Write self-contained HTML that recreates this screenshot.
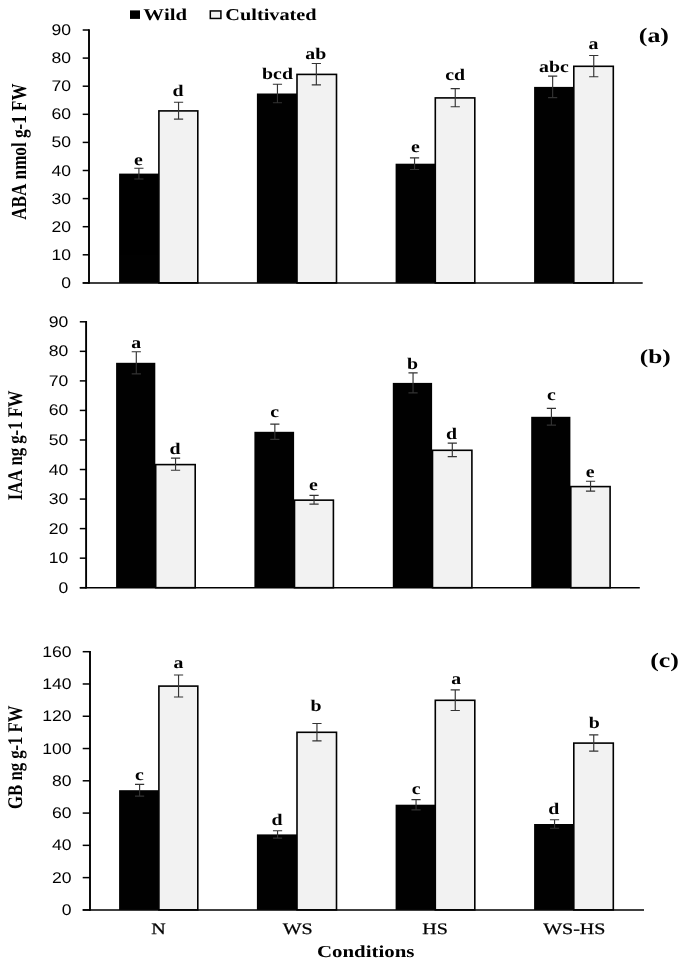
<!DOCTYPE html>
<html><head><meta charset="utf-8"><title>Figure</title>
<style>html,body{margin:0;padding:0;background:#fff}svg{display:block;will-change:transform;opacity:.999}text{fill:#000;font-kerning:none;text-rendering:geometricPrecision}</style>
</head><body>
<svg width="685" height="968" viewBox="0 0 685 968">
<rect width="685" height="968" fill="#fff"/>
<rect x="119.10" y="173.60" width="39.80" height="109.30" fill="#000"/>
<rect x="158.90" y="110.90" width="38.90" height="172.00" fill="#f2f2f2" stroke="#000" stroke-width="1.6"/>
<rect x="256.90" y="93.50" width="40.10" height="189.40" fill="#000"/>
<rect x="297.00" y="74.40" width="39.50" height="208.50" fill="#f2f2f2" stroke="#000" stroke-width="1.6"/>
<rect x="395.60" y="163.70" width="39.70" height="119.20" fill="#000"/>
<rect x="435.30" y="97.90" width="39.50" height="185.00" fill="#f2f2f2" stroke="#000" stroke-width="1.6"/>
<rect x="534.10" y="86.90" width="39.70" height="196.00" fill="#000"/>
<rect x="573.80" y="66.30" width="39.50" height="216.60" fill="#f2f2f2" stroke="#000" stroke-width="1.6"/>
<path d="M138.90 168.24V178.96M134.30 168.24H143.50M134.30 178.96H143.50" stroke="#333" stroke-width="1.15" fill="none"/>
<path d="M178.55 102.26V119.14M173.95 102.26H183.15M173.95 119.14H183.15" stroke="#333" stroke-width="1.15" fill="none"/>
<path d="M277.45 84.22V102.78M272.85 84.22H282.05M272.85 102.78H282.05" stroke="#333" stroke-width="1.15" fill="none"/>
<path d="M316.35 63.46V84.94M311.75 63.46H320.95M311.75 84.94H320.95" stroke="#333" stroke-width="1.15" fill="none"/>
<path d="M414.55 157.86V169.54M409.95 157.86H419.15M409.95 169.54H419.15" stroke="#333" stroke-width="1.15" fill="none"/>
<path d="M455.25 88.63V106.77M450.65 88.63H459.85M450.65 106.77H459.85" stroke="#333" stroke-width="1.15" fill="none"/>
<path d="M552.65 76.14V97.66M548.05 76.14H557.25M548.05 97.66H557.25" stroke="#333" stroke-width="1.15" fill="none"/>
<path d="M593.75 55.48V76.72M589.15 55.48H598.35M589.15 76.72H598.35" stroke="#333" stroke-width="1.15" fill="none"/>
<line x1="89.0" y1="29.25" x2="89.0" y2="283.65" stroke="#000" stroke-width="1.9"/>
<line x1="82.7" y1="282.90" x2="642.7" y2="282.90" stroke="#000" stroke-width="1.5"/>
<line x1="82.7" y1="282.90" x2="89.0" y2="282.90" stroke="#000" stroke-width="1.5"/>
<text transform="translate(71.00,287.90) scale(1.143,1)" font-family="Liberation Sans, sans-serif" font-size="15.4" font-weight="normal" text-anchor="end" >0</text>
<line x1="82.7" y1="254.80" x2="89.0" y2="254.80" stroke="#000" stroke-width="1.5"/>
<text transform="translate(71.00,259.80) scale(1.143,1)" font-family="Liberation Sans, sans-serif" font-size="15.4" font-weight="normal" text-anchor="end" >10</text>
<line x1="82.7" y1="226.70" x2="89.0" y2="226.70" stroke="#000" stroke-width="1.5"/>
<text transform="translate(71.00,231.70) scale(1.143,1)" font-family="Liberation Sans, sans-serif" font-size="15.4" font-weight="normal" text-anchor="end" >20</text>
<line x1="82.7" y1="198.60" x2="89.0" y2="198.60" stroke="#000" stroke-width="1.5"/>
<text transform="translate(71.00,203.60) scale(1.143,1)" font-family="Liberation Sans, sans-serif" font-size="15.4" font-weight="normal" text-anchor="end" >30</text>
<line x1="82.7" y1="170.50" x2="89.0" y2="170.50" stroke="#000" stroke-width="1.5"/>
<text transform="translate(71.00,175.50) scale(1.143,1)" font-family="Liberation Sans, sans-serif" font-size="15.4" font-weight="normal" text-anchor="end" >40</text>
<line x1="82.7" y1="142.40" x2="89.0" y2="142.40" stroke="#000" stroke-width="1.5"/>
<text transform="translate(71.00,147.40) scale(1.143,1)" font-family="Liberation Sans, sans-serif" font-size="15.4" font-weight="normal" text-anchor="end" >50</text>
<line x1="82.7" y1="114.30" x2="89.0" y2="114.30" stroke="#000" stroke-width="1.5"/>
<text transform="translate(71.00,119.30) scale(1.143,1)" font-family="Liberation Sans, sans-serif" font-size="15.4" font-weight="normal" text-anchor="end" >60</text>
<line x1="82.7" y1="86.20" x2="89.0" y2="86.20" stroke="#000" stroke-width="1.5"/>
<text transform="translate(71.00,91.20) scale(1.143,1)" font-family="Liberation Sans, sans-serif" font-size="15.4" font-weight="normal" text-anchor="end" >70</text>
<line x1="82.7" y1="58.10" x2="89.0" y2="58.10" stroke="#000" stroke-width="1.5"/>
<text transform="translate(71.00,63.10) scale(1.143,1)" font-family="Liberation Sans, sans-serif" font-size="15.4" font-weight="normal" text-anchor="end" >80</text>
<line x1="82.7" y1="30.00" x2="89.0" y2="30.00" stroke="#000" stroke-width="1.5"/>
<text transform="translate(71.00,35.00) scale(1.143,1)" font-family="Liberation Sans, sans-serif" font-size="15.4" font-weight="normal" text-anchor="end" >90</text>
<text transform="translate(138.50,165.20) scale(1.21,1)" font-family="Liberation Serif, serif" font-size="16.4" font-weight="bold" text-anchor="middle" >e</text>
<text transform="translate(177.90,95.60) scale(1.21,1)" font-family="Liberation Serif, serif" font-size="16.4" font-weight="bold" text-anchor="middle" >d</text>
<text transform="translate(277.50,78.80) scale(1.21,1)" font-family="Liberation Serif, serif" font-size="16.4" font-weight="bold" text-anchor="middle" >bcd</text>
<text transform="translate(315.80,58.60) scale(1.21,1)" font-family="Liberation Serif, serif" font-size="16.4" font-weight="bold" text-anchor="middle" >ab</text>
<text transform="translate(415.40,152.30) scale(1.21,1)" font-family="Liberation Serif, serif" font-size="16.4" font-weight="bold" text-anchor="middle" >e</text>
<text transform="translate(455.10,79.90) scale(1.21,1)" font-family="Liberation Serif, serif" font-size="16.4" font-weight="bold" text-anchor="middle" >cd</text>
<text transform="translate(553.90,72.00) scale(1.21,1)" font-family="Liberation Serif, serif" font-size="16.4" font-weight="bold" text-anchor="middle" >abc</text>
<text transform="translate(593.50,48.50) scale(1.21,1)" font-family="Liberation Serif, serif" font-size="16.4" font-weight="bold" text-anchor="middle" >a</text>
<text transform="translate(26.00,151.60) scale(1.25,1) rotate(-90)" font-family="Liberation Serif, serif" font-size="17.1" font-weight="bold" text-anchor="middle">ABA nmol g-1 FW</text>
<text transform="translate(653.90,41.70) scale(1.26,1)" font-family="Liberation Serif, serif" font-size="20.5" font-weight="bold" text-anchor="middle" >(a)</text>
<rect x="116.10" y="362.80" width="39.20" height="224.90" fill="#000"/>
<rect x="155.70" y="464.60" width="39.50" height="123.10" fill="#f2f2f2" stroke="#000" stroke-width="1.6"/>
<rect x="254.40" y="431.80" width="39.70" height="155.90" fill="#000"/>
<rect x="294.50" y="500.15" width="38.90" height="87.55" fill="#f2f2f2" stroke="#000" stroke-width="1.6"/>
<rect x="392.80" y="382.90" width="39.30" height="204.80" fill="#000"/>
<rect x="432.50" y="450.30" width="39.40" height="137.40" fill="#f2f2f2" stroke="#000" stroke-width="1.6"/>
<rect x="531.20" y="416.80" width="39.20" height="170.90" fill="#000"/>
<rect x="570.80" y="486.60" width="39.30" height="101.10" fill="#f2f2f2" stroke="#000" stroke-width="1.6"/>
<path d="M136.30 351.78V373.82M131.70 351.78H140.90M131.70 373.82H140.90" stroke="#333" stroke-width="1.15" fill="none"/>
<path d="M175.55 458.15V470.25M170.95 458.15H180.15M170.95 470.25H180.15" stroke="#333" stroke-width="1.15" fill="none"/>
<path d="M274.85 424.16V439.44M270.25 424.16H279.45M270.25 439.44H279.45" stroke="#333" stroke-width="1.15" fill="none"/>
<path d="M314.05 495.44V504.06M309.45 495.44H318.65M309.45 504.06H318.65" stroke="#333" stroke-width="1.15" fill="none"/>
<path d="M413.05 372.86V392.94M408.45 372.86H417.65M408.45 392.94H417.65" stroke="#333" stroke-width="1.15" fill="none"/>
<path d="M452.30 443.15V456.65M447.70 443.15H456.90M447.70 456.65H456.90" stroke="#333" stroke-width="1.15" fill="none"/>
<path d="M551.40 408.43V425.17M546.80 408.43H556.00M546.80 425.17H556.00" stroke="#333" stroke-width="1.15" fill="none"/>
<path d="M590.55 481.23V491.17M585.95 481.23H595.15M585.95 491.17H595.15" stroke="#333" stroke-width="1.15" fill="none"/>
<line x1="86.1" y1="321.05" x2="86.1" y2="588.45" stroke="#000" stroke-width="1.9"/>
<line x1="79.8" y1="587.70" x2="639.8" y2="587.70" stroke="#000" stroke-width="1.5"/>
<line x1="79.8" y1="587.70" x2="86.1" y2="587.70" stroke="#000" stroke-width="1.5"/>
<text transform="translate(68.20,592.70) scale(1.143,1)" font-family="Liberation Sans, sans-serif" font-size="15.4" font-weight="normal" text-anchor="end" >0</text>
<line x1="79.8" y1="558.16" x2="86.1" y2="558.16" stroke="#000" stroke-width="1.5"/>
<text transform="translate(68.20,563.16) scale(1.143,1)" font-family="Liberation Sans, sans-serif" font-size="15.4" font-weight="normal" text-anchor="end" >10</text>
<line x1="79.8" y1="528.61" x2="86.1" y2="528.61" stroke="#000" stroke-width="1.5"/>
<text transform="translate(68.20,533.61) scale(1.143,1)" font-family="Liberation Sans, sans-serif" font-size="15.4" font-weight="normal" text-anchor="end" >20</text>
<line x1="79.8" y1="499.07" x2="86.1" y2="499.07" stroke="#000" stroke-width="1.5"/>
<text transform="translate(68.20,504.07) scale(1.143,1)" font-family="Liberation Sans, sans-serif" font-size="15.4" font-weight="normal" text-anchor="end" >30</text>
<line x1="79.8" y1="469.52" x2="86.1" y2="469.52" stroke="#000" stroke-width="1.5"/>
<text transform="translate(68.20,474.52) scale(1.143,1)" font-family="Liberation Sans, sans-serif" font-size="15.4" font-weight="normal" text-anchor="end" >40</text>
<line x1="79.8" y1="439.98" x2="86.1" y2="439.98" stroke="#000" stroke-width="1.5"/>
<text transform="translate(68.20,444.98) scale(1.143,1)" font-family="Liberation Sans, sans-serif" font-size="15.4" font-weight="normal" text-anchor="end" >50</text>
<line x1="79.8" y1="410.43" x2="86.1" y2="410.43" stroke="#000" stroke-width="1.5"/>
<text transform="translate(68.20,415.43) scale(1.143,1)" font-family="Liberation Sans, sans-serif" font-size="15.4" font-weight="normal" text-anchor="end" >60</text>
<line x1="79.8" y1="380.89" x2="86.1" y2="380.89" stroke="#000" stroke-width="1.5"/>
<text transform="translate(68.20,385.89) scale(1.143,1)" font-family="Liberation Sans, sans-serif" font-size="15.4" font-weight="normal" text-anchor="end" >70</text>
<line x1="79.8" y1="351.34" x2="86.1" y2="351.34" stroke="#000" stroke-width="1.5"/>
<text transform="translate(68.20,356.34) scale(1.143,1)" font-family="Liberation Sans, sans-serif" font-size="15.4" font-weight="normal" text-anchor="end" >80</text>
<line x1="79.8" y1="321.80" x2="86.1" y2="321.80" stroke="#000" stroke-width="1.5"/>
<text transform="translate(68.20,326.80) scale(1.143,1)" font-family="Liberation Sans, sans-serif" font-size="15.4" font-weight="normal" text-anchor="end" >90</text>
<text transform="translate(136.30,347.90) scale(1.21,1)" font-family="Liberation Serif, serif" font-size="16.4" font-weight="bold" text-anchor="middle" >a</text>
<text transform="translate(175.00,454.40) scale(1.21,1)" font-family="Liberation Serif, serif" font-size="16.4" font-weight="bold" text-anchor="middle" >d</text>
<text transform="translate(274.70,417.00) scale(1.21,1)" font-family="Liberation Serif, serif" font-size="16.4" font-weight="bold" text-anchor="middle" >c</text>
<text transform="translate(313.50,490.20) scale(1.21,1)" font-family="Liberation Serif, serif" font-size="16.4" font-weight="bold" text-anchor="middle" >e</text>
<text transform="translate(412.50,369.00) scale(1.21,1)" font-family="Liberation Serif, serif" font-size="16.4" font-weight="bold" text-anchor="middle" >b</text>
<text transform="translate(451.40,439.20) scale(1.21,1)" font-family="Liberation Serif, serif" font-size="16.4" font-weight="bold" text-anchor="middle" >d</text>
<text transform="translate(551.40,400.30) scale(1.21,1)" font-family="Liberation Serif, serif" font-size="16.4" font-weight="bold" text-anchor="middle" >c</text>
<text transform="translate(590.10,476.90) scale(1.21,1)" font-family="Liberation Serif, serif" font-size="16.4" font-weight="bold" text-anchor="middle" >e</text>
<text transform="translate(22.20,445.40) scale(1.25,1) rotate(-90)" font-family="Liberation Serif, serif" font-size="16.7" font-weight="bold" text-anchor="middle">IAA ng g-1 FW</text>
<text transform="translate(655.30,363.00) scale(1.28,1)" font-family="Liberation Serif, serif" font-size="19.8" font-weight="bold" text-anchor="middle" >(b)</text>
<rect x="119.10" y="790.20" width="39.80" height="119.70" fill="#000"/>
<rect x="158.90" y="686.10" width="38.90" height="223.80" fill="#f2f2f2" stroke="#000" stroke-width="1.6"/>
<rect x="256.90" y="834.40" width="40.10" height="75.50" fill="#000"/>
<rect x="297.00" y="732.30" width="39.50" height="177.60" fill="#f2f2f2" stroke="#000" stroke-width="1.6"/>
<rect x="395.60" y="804.70" width="39.70" height="105.20" fill="#000"/>
<rect x="435.30" y="700.30" width="39.50" height="209.60" fill="#f2f2f2" stroke="#000" stroke-width="1.6"/>
<rect x="534.10" y="824.00" width="39.70" height="85.90" fill="#000"/>
<rect x="573.80" y="743.10" width="39.50" height="166.80" fill="#f2f2f2" stroke="#000" stroke-width="1.6"/>
<path d="M139.60 784.33V796.07M135.00 784.33H144.20M135.00 796.07H144.20" stroke="#333" stroke-width="1.15" fill="none"/>
<path d="M178.55 675.03V696.97M173.95 675.03H183.15M173.95 696.97H183.15" stroke="#333" stroke-width="1.15" fill="none"/>
<path d="M277.55 830.70V838.10M272.95 830.70H282.15M272.95 838.10H282.15" stroke="#333" stroke-width="1.15" fill="none"/>
<path d="M316.95 723.49V740.91M312.35 723.49H321.55M312.35 740.91H321.55" stroke="#333" stroke-width="1.15" fill="none"/>
<path d="M416.05 799.55V809.85M411.45 799.55H420.65M411.45 809.85H420.65" stroke="#333" stroke-width="1.15" fill="none"/>
<path d="M455.25 689.92V710.48M450.65 689.92H459.85M450.65 710.48H459.85" stroke="#333" stroke-width="1.15" fill="none"/>
<path d="M554.55 819.79V828.21M549.95 819.79H559.15M549.95 828.21H559.15" stroke="#333" stroke-width="1.15" fill="none"/>
<path d="M593.75 734.82V751.18M589.15 734.82H598.35M589.15 751.18H598.35" stroke="#333" stroke-width="1.15" fill="none"/>
<line x1="90.0" y1="650.95" x2="90.0" y2="910.65" stroke="#000" stroke-width="1.9"/>
<line x1="82.7" y1="909.90" x2="644.0" y2="909.90" stroke="#000" stroke-width="1.5"/>
<line x1="82.7" y1="909.90" x2="90.0" y2="909.90" stroke="#000" stroke-width="1.5"/>
<text transform="translate(71.60,914.90) scale(1.143,1)" font-family="Liberation Sans, sans-serif" font-size="15.4" font-weight="normal" text-anchor="end" >0</text>
<line x1="82.7" y1="877.62" x2="90.0" y2="877.62" stroke="#000" stroke-width="1.5"/>
<text transform="translate(71.60,882.62) scale(1.143,1)" font-family="Liberation Sans, sans-serif" font-size="15.4" font-weight="normal" text-anchor="end" >20</text>
<line x1="82.7" y1="845.35" x2="90.0" y2="845.35" stroke="#000" stroke-width="1.5"/>
<text transform="translate(71.60,850.35) scale(1.143,1)" font-family="Liberation Sans, sans-serif" font-size="15.4" font-weight="normal" text-anchor="end" >40</text>
<line x1="82.7" y1="813.08" x2="90.0" y2="813.08" stroke="#000" stroke-width="1.5"/>
<text transform="translate(71.60,818.08) scale(1.143,1)" font-family="Liberation Sans, sans-serif" font-size="15.4" font-weight="normal" text-anchor="end" >60</text>
<line x1="82.7" y1="780.80" x2="90.0" y2="780.80" stroke="#000" stroke-width="1.5"/>
<text transform="translate(71.60,785.80) scale(1.143,1)" font-family="Liberation Sans, sans-serif" font-size="15.4" font-weight="normal" text-anchor="end" >80</text>
<line x1="82.7" y1="748.53" x2="90.0" y2="748.53" stroke="#000" stroke-width="1.5"/>
<text transform="translate(71.60,753.53) scale(1.143,1)" font-family="Liberation Sans, sans-serif" font-size="15.4" font-weight="normal" text-anchor="end" >100</text>
<line x1="82.7" y1="716.25" x2="90.0" y2="716.25" stroke="#000" stroke-width="1.5"/>
<text transform="translate(71.60,721.25) scale(1.143,1)" font-family="Liberation Sans, sans-serif" font-size="15.4" font-weight="normal" text-anchor="end" >120</text>
<line x1="82.7" y1="683.98" x2="90.0" y2="683.98" stroke="#000" stroke-width="1.5"/>
<text transform="translate(71.60,688.98) scale(1.143,1)" font-family="Liberation Sans, sans-serif" font-size="15.4" font-weight="normal" text-anchor="end" >140</text>
<line x1="82.7" y1="651.70" x2="90.0" y2="651.70" stroke="#000" stroke-width="1.5"/>
<text transform="translate(71.60,656.70) scale(1.143,1)" font-family="Liberation Sans, sans-serif" font-size="15.4" font-weight="normal" text-anchor="end" >160</text>
<text transform="translate(139.50,779.90) scale(1.21,1)" font-family="Liberation Serif, serif" font-size="16.4" font-weight="bold" text-anchor="middle" >c</text>
<text transform="translate(178.40,668.00) scale(1.21,1)" font-family="Liberation Serif, serif" font-size="16.4" font-weight="bold" text-anchor="middle" >a</text>
<text transform="translate(277.00,825.00) scale(1.21,1)" font-family="Liberation Serif, serif" font-size="16.4" font-weight="bold" text-anchor="middle" >d</text>
<text transform="translate(316.10,711.20) scale(1.21,1)" font-family="Liberation Serif, serif" font-size="16.4" font-weight="bold" text-anchor="middle" >b</text>
<text transform="translate(416.10,794.20) scale(1.21,1)" font-family="Liberation Serif, serif" font-size="16.4" font-weight="bold" text-anchor="middle" >c</text>
<text transform="translate(456.10,684.40) scale(1.21,1)" font-family="Liberation Serif, serif" font-size="16.4" font-weight="bold" text-anchor="middle" >a</text>
<text transform="translate(553.70,814.10) scale(1.21,1)" font-family="Liberation Serif, serif" font-size="16.4" font-weight="bold" text-anchor="middle" >d</text>
<text transform="translate(594.20,728.00) scale(1.21,1)" font-family="Liberation Serif, serif" font-size="16.4" font-weight="bold" text-anchor="middle" >b</text>
<text transform="translate(22.20,757.20) scale(1.25,1) rotate(-90)" font-family="Liberation Serif, serif" font-size="16.7" font-weight="bold" text-anchor="middle">GB ng g-1 FW</text>
<text transform="translate(664.50,666.80) scale(1.26,1)" font-family="Liberation Serif, serif" font-size="20.5" font-weight="bold" text-anchor="middle" >(c)</text>
<text transform="translate(158.60,934.00) scale(1.25,1)" font-family="Liberation Serif, serif" font-size="16" font-weight="normal" text-anchor="middle" stroke="#000" stroke-width="0.25">N</text>
<text transform="translate(297.70,934.00) scale(1.25,1)" font-family="Liberation Serif, serif" font-size="16" font-weight="normal" text-anchor="middle" stroke="#000" stroke-width="0.25">WS</text>
<text transform="translate(435.00,934.00) scale(1.25,1)" font-family="Liberation Serif, serif" font-size="16" font-weight="normal" text-anchor="middle" stroke="#000" stroke-width="0.25">HS</text>
<text transform="translate(574.30,934.00) scale(1.25,1)" font-family="Liberation Serif, serif" font-size="16" font-weight="normal" text-anchor="middle" stroke="#000" stroke-width="0.25">WS-HS</text>
<text transform="translate(365.70,956.50) scale(1.245,1)" font-family="Liberation Serif, serif" font-size="16.8" font-weight="bold" text-anchor="middle" >Conditions</text>
<rect x="130" y="10.4" width="10" height="8.5" fill="#000"/>
<text transform="translate(143.30,20.40) scale(1.25,1)" font-family="Liberation Serif, serif" font-size="16.6" font-weight="bold" text-anchor="start" >Wild</text>
<rect x="210.3" y="10.95" width="10.6" height="7.5" fill="#f2f2f2" stroke="#000" stroke-width="1.5"/>
<text transform="translate(225.30,20.40) scale(1.23,1)" font-family="Liberation Serif, serif" font-size="16.5" font-weight="bold" text-anchor="start" >Cultivated</text>
</svg>
</body></html>
